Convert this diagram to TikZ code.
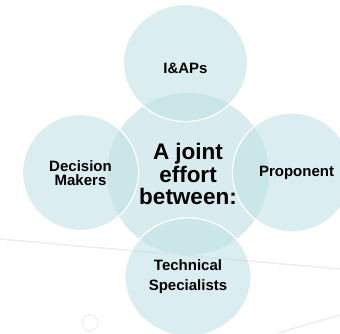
\documentclass[tikz,border=0pt]{standalone}
\usepackage{fontspec}
\setmainfont{Liberation Sans}
\definecolor{centerfill}{RGB}{214,235,238}
\definecolor{satfill}{RGB}{196,226,231}
\definecolor{decoline}{RGB}{238,238,238}
\begin{document}
\begin{tikzpicture}[x=1pt,y=-1pt,
  sat/.style={fill=satfill,fill opacity=0.62,draw=white,line width=1.2pt,text opacity=1},
  satlabel/.style={font=\bfseries\fontsize{15}{14.5}\selectfont,align=center,text=black},
  deco/.style={draw=decoline,line width=1.6pt}]
\useasboundingbox (0,0) rectangle (340,333);
\clip (0,0) rectangle (340,333);
% faint background decoration
\draw[deco] (0,239) -- (340,269);
\draw[deco] (278,333) -- (340,315);
\draw[deco,line width=1.2pt] (90,323) circle[radius=8];
% central circle
\fill[centerfill,fill opacity=0.95] (188,174) circle[radius=81];
\node[font=\bfseries\fontsize{22.5}{22.5}\selectfont,align=center] (hub) at (188,174) {A joint\\effort\\between:};
% satellites
\path[sat] (185.5,63) ellipse[x radius=62,y radius=58.5];
\path[sat] (80.5,172.5) circle[radius=58];
\path[sat] (292,172.5) circle[radius=59.5];
\path[sat] (188,277) ellipse[x radius=63,y radius=59];
\node[satlabel] (iaps) at (185.5,68.5) {I\&APs};
\node[satlabel] (dm) at (80.5,173) {Decision\\Makers};
\node[satlabel] (prop) at (296.5,173) {Proponent};
\node[satlabel,font=\bfseries\fontsize{15}{20}\selectfont] (tech) at (188,277) {Technical\\Specialists};
\end{tikzpicture}
\end{document}
